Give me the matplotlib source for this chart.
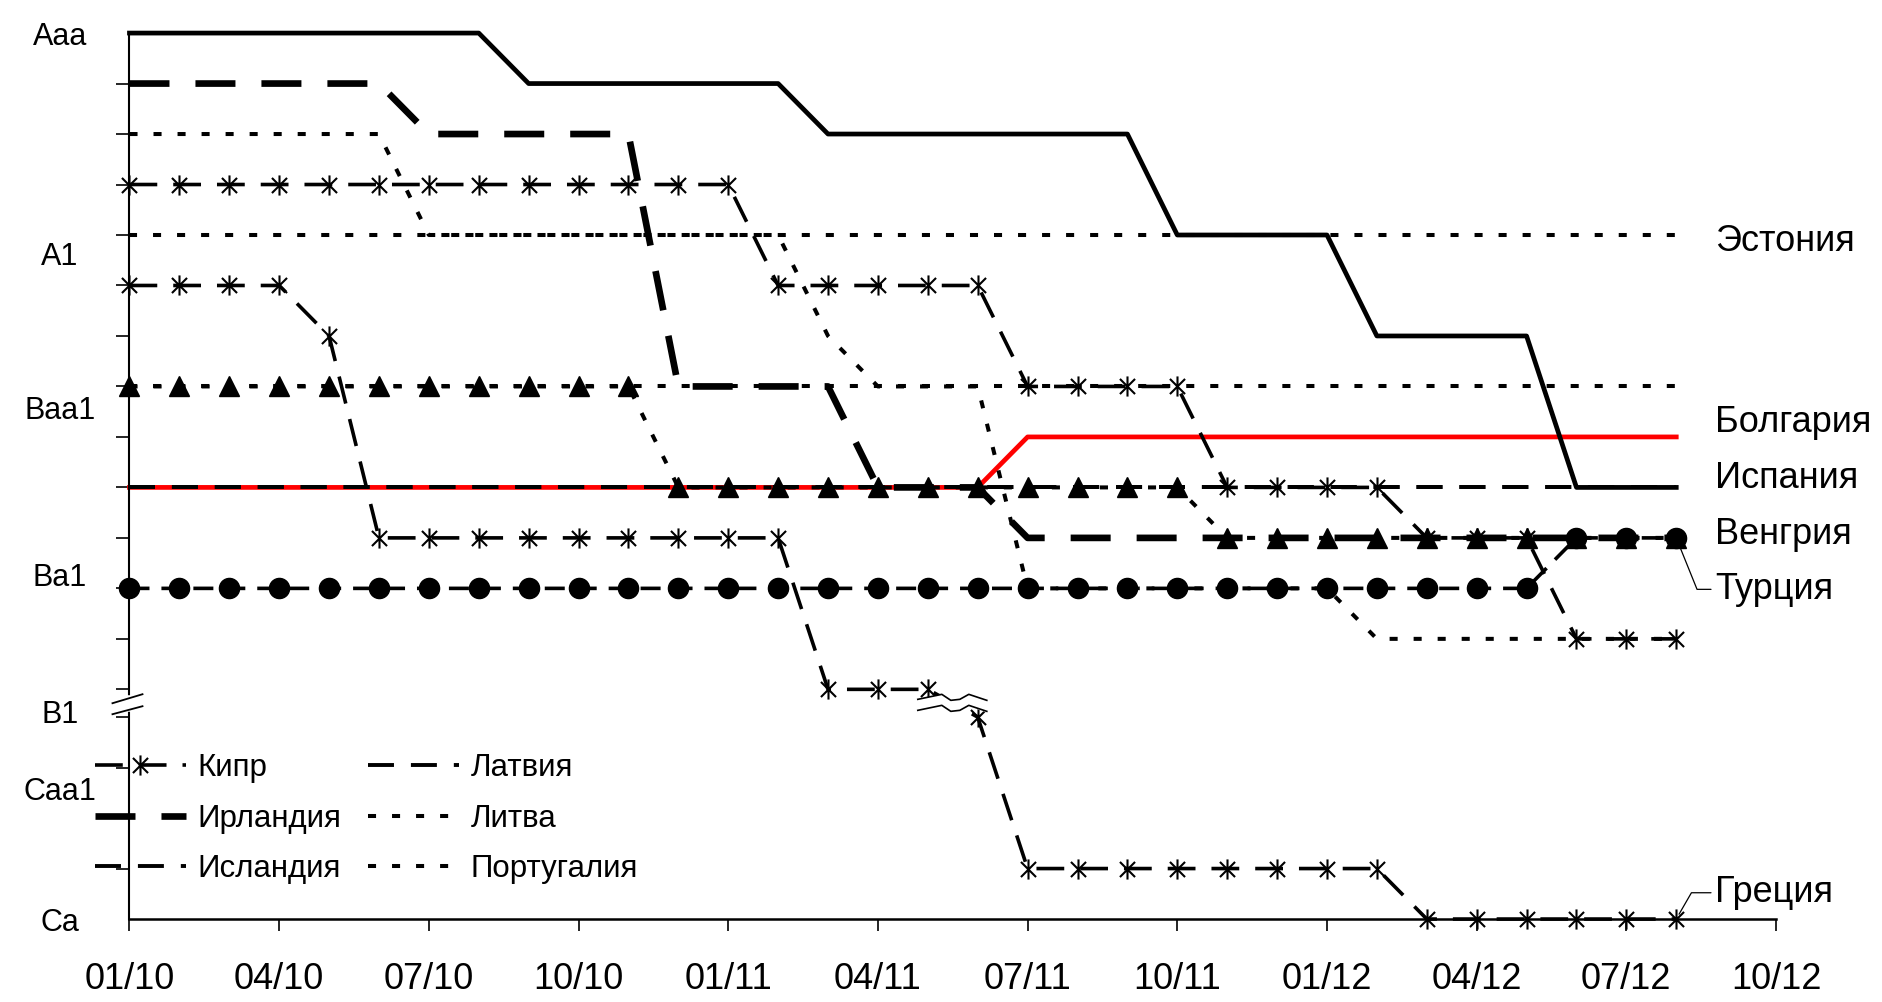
import numpy as np
import matplotlib
matplotlib.use('Agg')
import matplotlib.pyplot as plt
from matplotlib.path import Path
from matplotlib.transforms import ScaledTranslation, blended_transform_factory

plt.rcParams['font.family'] = ['Liberation Sans', 'DejaVu Sans']
plt.rcParams['lines.scale_dashes'] = False

# Шкала рейтингов Moody's (сверху вниз)
ratings = ['Aaa', 'Aa1', 'Aa2', 'Aa3', 'A1', 'A2', 'A3', 'Baa1', 'Baa2', 'Baa3',
           'Ba1', 'Ba2', 'Ba3', 'B1', 'B2', 'B3', 'Caa1', 'Caa2', 'Caa3', 'Ca', 'C']

# Подписи оси Y и их положение (в единицах шкалы)
y_labels = ['Aaa', 'A1', 'Baa1', 'Ba1', 'B1', 'Caa1', 'Ca']
y_label_pos = [0, 4.36, 7.42, 10.73, 15.35, 17.41, 20]

# Подписи оси X (месяц/год), шаг - квартал
x_labels = ['01/10', '04/10', '07/10', '10/10', '01/11', '04/11', '07/11', '10/11',
            '01/12', '04/12', '07/12', '10/12']

# Месяцы с января 2010 по август 2012
months = np.arange(32)

# Рейтинги стран по месяцам
spain = ['Aaa'] * 8 + ['Aa1'] * 6 + ['Aa2'] * 7 + ['A1'] * 4 + ['A3'] * 4 + ['Baa3'] * 3
ireland = ['Aa1'] * 6 + ['Aa2'] * 5 + ['Baa1'] * 4 + ['Baa3'] * 3 + ['Ba1'] * 14
portugal = ['Aa2'] * 6 + ['A1'] * 8 + ['A3'] * 1 + ['Baa1'] * 3 + ['Ba2'] * 7 + ['Ba3'] * 7
estonia = ['A1'] * 32
lithuania = ['Baa1'] * 32
latvia = ['Baa3'] * 32
iceland = ['Baa3'] * 32
bulgaria = ['Baa3'] * 18 + ['Baa2'] * 14
hungary = ['Baa1'] * 11 + ['Baa3'] * 11 + ['Ba1'] * 10
turkey = ['Ba2'] * 29 + ['Ba1'] * 3
cyprus = ['Aa3'] * 13 + ['A2'] * 5 + ['Baa1'] * 4 + ['Baa3'] * 4 + ['Ba1'] * 3 + ['Ba3'] * 3
greece = ['A2'] * 4 + ['A3'] * 1 + ['Ba1'] * 9 + ['B1'] * 3 + ['Caa1'] * 1 + ['Ca'] * 8 + ['C'] * 6


def idx(series):
    return [ratings.index(r) for r in series]


# Разрыв оси: B2 и B3 сжаты
def fwd(y):
    y = np.asarray(y, dtype=float)
    return np.where(y <= 13, y, np.where(y >= 16, y - 2.45, 13 + (y - 13) * 0.55 / 3))


def inv(n):
    n = np.asarray(n, dtype=float)
    return np.where(n <= 13, n, np.where(n >= 13.55, n + 2.45, 13 + (n - 13) * 3 / 0.55))


# Маркер-звёздочка (вертикаль + крест)
star = Path([(0, -1), (0, 1), (-0.75, -0.75), (0.75, 0.75), (-0.75, 0.75), (0.75, -0.75)],
            [Path.MOVETO, Path.LINETO, Path.MOVETO, Path.LINETO, Path.MOVETO, Path.LINETO])

fig = plt.figure(figsize=(18.82, 10.02), dpi=100)
ax = fig.add_axes([0.0688, 0.0828, 0.8749, 0.8842])
ax.set_yscale('function', functions=(fwd, inv))

dotted = (0, (5.8, 11.5))
kw = dict(color='black', clip_on=False)

ax.plot(months, idx(bulgaria), color='red', lw=3.4, zorder=2, clip_on=False)
ax.plot(months, idx(spain), lw=3.4, zorder=3, **kw)
ax.plot(months, idx(estonia), lw=2.9, ls=dotted, zorder=3, **kw)
l_lit, = ax.plot(months, idx(lithuania), lw=2.9, ls=dotted, zorder=3, **kw)
l_por, = ax.plot(months, idx(portugal), lw=2.9, ls=dotted, zorder=3, **kw)
l_lat, = ax.plot(months, idx(latvia), lw=2.8, ls=(0, (18.7, 12.2)), zorder=3.5, **kw)
l_ice, = ax.plot(months, idx(iceland), lw=2.8, ls=(0, (18.7, 12.2)), zorder=3.5, **kw)
l_ire, = ax.plot(months, idx(ireland), lw=4.8, ls=(0, (28.8, 18.7)), zorder=3.6, **kw)
ax.plot(months, idx(hungary), lw=2.9, ls=dotted, marker='^', ms=14.5, zorder=4, **kw)
ax.plot(months, idx(turkey), lw=2.6, ls=(0, (14.4, 8.6)), marker='o', ms=14.5, zorder=4, **kw)
l_cyp, = ax.plot(months, idx(cyprus), lw=2.6, ls=(0, (20, 11.5)), marker=star, ms=14.5,
                 mew=1.5, zorder=4.5, **kw)
ax.plot(months, idx(greece), lw=2.6, ls=(0, (20, 11.5)), marker=star, ms=14.5,
        mew=1.5, zorder=4.5, **kw)

# Оси
ax.set_xlim(0, 33)
ax.set_ylim(20, 0)
ax.spines['top'].set_visible(False)
ax.spines['right'].set_visible(False)
ax.spines['left'].set_linewidth(1.5)
ax.spines['bottom'].set_linewidth(1.8)

ax.set_xticks(np.arange(0, 34, 3))
ax.set_xticklabels(x_labels)
ax.tick_params(axis='x', direction='out', length=8.6, width=1.2, labelsize=26, pad=22)

ax.set_yticks(y_label_pos)
ax.set_yticklabels(y_labels)
ax.set_yticks([i for i in range(21) if i not in (14, 15)], minor=True)
ax.tick_params(axis='y', which='major', length=0, labelsize=22, pad=50)
ax.tick_params(axis='y', which='minor', direction='out', length=9.4, width=1.2)
for t in ax.get_yticklabels():
    t.set_ha('center')

# Значок разрыва на оси Y
brk = fig.dpi_scale_trans + ScaledTranslation(0, 14.5, blended_transform_factory(ax.transAxes, ax.transData))
ax.plot([0, 0], [0.05, -0.06], color='white', lw=4, transform=brk, clip_on=False, zorder=6)
ax.plot([-0.17, 0.13], [0, 0.09], color='black', lw=1.3, transform=brk, clip_on=False, zorder=7)
ax.plot([-0.17, 0.13], [-0.11, -0.03], color='black', lw=1.3, transform=brk, clip_on=False, zorder=7)

# Значок разрыва на линии Греции
zz = fig.dpi_scale_trans + ScaledTranslation(16, 13, ax.transData)
zx = np.array([-0.10, 0.14, 0.23, 0.32, 0.41, 0.59])
zy = np.array([-0.10, -0.05, -0.11, -0.10, -0.05, -0.11])
ax.fill_between(zx, zy, zy - 0.11, color='white', transform=zz, zorder=5, clip_on=False)
ax.plot(zx, zy, color='black', lw=1.2, transform=zz, zorder=6, clip_on=False)
ax.plot(zx, zy - 0.11, color='black', lw=1.2, transform=zz, zorder=6, clip_on=False)

# Подписи справа
lx = 31.78
ax.text(lx, 4.05, 'Эстония', fontsize=26, va='center_baseline')
ax.text(lx, 7.64, 'Болгария', fontsize=26, va='center_baseline')
ax.text(lx, 8.74, 'Испания', fontsize=26, va='center_baseline')
ax.text(lx, 9.85, 'Венгрия', fontsize=26, va='center_baseline')
ax.annotate('Турция', xy=(31, ratings.index('Ba1')), xytext=(lx, 10.94), fontsize=26,
            va='center_baseline',
            arrowprops=dict(arrowstyle='-', lw=0.9, color='black', shrinkA=1, shrinkB=6,
                            relpos=(0, 0.5), connectionstyle='angle,angleA=0,angleB=-68'))
ax.annotate('Греция', xy=(31, ratings.index('C')), xytext=(lx, 19.40), fontsize=26,
            va='center_baseline',
            arrowprops=dict(arrowstyle='-', lw=0.9, color='black', shrinkA=1, shrinkB=4,
                            relpos=(0, 0.5), connectionstyle='angle,angleA=0,angleB=60'))

# Легенда
ax.legend([l_cyp, l_ire, l_ice, l_lat, l_lit, l_por],
          ['Кипр', 'Ирландия', 'Исландия', 'Латвия', 'Литва', 'Португалия'],
          ncol=2, loc='center left', bbox_to_anchor=(0.0505, 0.1830),
          bbox_transform=fig.transFigure, frameon=False, fontsize=22.5,
          handlelength=2.9, handletextpad=0.38, columnspacing=0.85,
          labelspacing=0.66, borderpad=0, borderaxespad=0, numpoints=1)

fig.savefig('out.png', dpi=100)
